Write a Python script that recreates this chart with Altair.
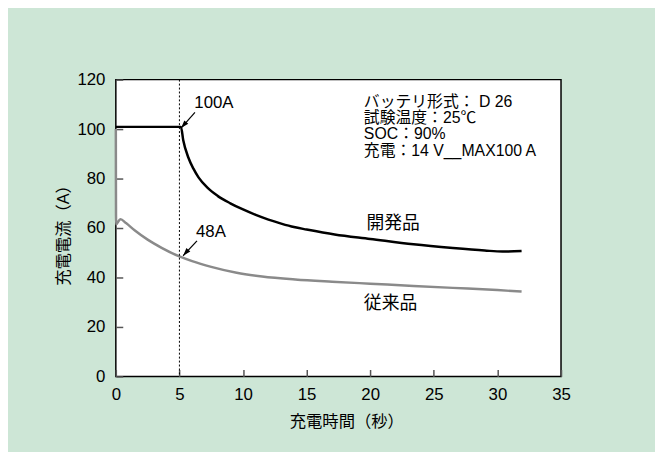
import altair as alt
import pandas as pd

# 開発品 (developed product)
dev_t = [0, 5.12, 5.3, 5.7, 6.1, 6.5, 7.2, 8.0, 9.0, 10.0, 11.0, 12.0, 13.0, 14.0, 15.0, 17.2, 20.0, 23.4, 26.5, 29.0, 30.4, 31.9]
dev_a = [100.9, 100.9, 95.5, 88.5, 84.0, 80.5, 76.3, 73.0, 70.0, 67.5, 65.3, 63.4, 61.8, 60.4, 59.4, 57.4, 55.6, 53.4, 51.9, 50.9, 50.5, 50.7]

# 従来品 (conventional product)
conv_t = [0, 0.02, 0.36, 0.8, 1.5, 2.5, 3.6, 5.0, 6.0, 7.5, 9.5, 11.5, 14.1, 17.0, 20.0, 23.4, 26.5, 30.0, 31.9]
conv_a = [100, 61.5, 63.6, 62.0, 59.0, 55.3, 52.0, 48.5, 46.6, 44.3, 41.9, 40.4, 39.2, 38.3, 37.5, 36.6, 35.8, 34.9, 34.3]

x_ticks = [0, 5, 10, 15, 20, 25, 30, 35]
y_ticks = [0, 20, 40, 60, 80, 100, 120]

marker_t = [5.0]

info_lines = ["バッテリ形式： D 26", "試験温度：25℃", "SOC：90%", "充電：14 V__MAX100 A"]
info_t = [19.5, 19.5, 19.5, 19.5]
info_a = [111.0, 104.4, 97.8, 91.2]

series_labels = ["開発品", "従来品"]
series_label_t = [21.8, 21.6]
series_label_a = [61.6, 29.2]

callout_text = ["100A", "48A"]
callout_text_t = [6.17, 6.3]
callout_text_a = [110.7, 58.4]
arrow_tail_t = [6.22, 6.38]
arrow_tail_a = [106.8, 54.8]
arrow_tip_t = [5.13, 5.29]
arrow_tip_a = [100.4, 48.8]
arrow_angle = [221, 221]

LATIN = "Liberation Sans, Arial, Noto Sans CJK JP"
CJK = "Liberation Sans, Noto Sans CJK JP"

xs = alt.Scale(domain=[0, 35], nice=False, zero=False)
ys = alt.Scale(domain=[0, 120], nice=False, zero=False)

dev_df = pd.DataFrame({"t": dev_t, "a": dev_a})
conv_df = pd.DataFrame({"t": conv_t, "a": conv_a})
marker_df = pd.DataFrame({"t": marker_t})
info_df = pd.DataFrame({"t": info_t, "a": info_a, "txt": info_lines})
lab_df = pd.DataFrame({"t": series_label_t, "a": series_label_a, "txt": series_labels})
call_df = pd.DataFrame({"t": callout_text_t, "a": callout_text_a, "txt": callout_text})
arrow_df = pd.DataFrame({"t": arrow_tail_t, "a": arrow_tail_a, "t2": arrow_tip_t, "a2": arrow_tip_a, "ang": arrow_angle})

main_x_axis = alt.Axis(
    title="充電時間（秒）", values=x_ticks, grid=False, ticks=False, domain=False,
    labelFontSize=17, labelFont=LATIN, labelColor="black", labelPadding=10,
    labelFlush=False, labelOverlap=False,
    titleFont=CJK, titleFontSize=16.5, titleFontWeight="normal", titleColor="black", titlePadding=12,
    titleX=233, titleAlign="center",
)
main_y_axis = alt.Axis(
    title="充電電流（A）", values=y_ticks, grid=False, ticks=False, domain=False,
    labelFontSize=17, labelFont=LATIN, labelColor="black", labelPadding=11,
    labelFlush=False, labelOverlap=False,
    titleFont=CJK, titleFontSize=16.5, titleFontWeight="normal", titleColor="black", titlePadding=5,
    titleY=153, titleAlign="center",
)
inner_x_axis = alt.Axis(
    orient="top", offset=-300, values=x_ticks, labels=False, domain=False, grid=False,
    ticks=True, tickSize=7, tickColor="#555555", tickWidth=1.5, title=None,
)
inner_y_axis = alt.Axis(
    orient="right", offset=-450, values=y_ticks, labels=False, domain=False, grid=False,
    ticks=True, tickSize=7, tickColor="#555555", tickWidth=1.5, title=None,
)

dev_line = alt.Chart(dev_df).mark_line(color="black", strokeWidth=2.5, interpolate="monotone").encode(
    x=alt.X("t:Q", scale=xs, axis=main_x_axis),
    y=alt.Y("a:Q", scale=ys, axis=main_y_axis),
)
conv_line = alt.Chart(conv_df).mark_line(color="#8a8a8a", strokeWidth=2.5, interpolate="monotone").encode(
    x=alt.X("t:Q", scale=xs, axis=None),
    y=alt.Y("a:Q", scale=ys, axis=inner_y_axis),
)
marker = alt.Chart(marker_df).mark_rule(color="black", strokeWidth=1, strokeDash=[2, 2]).encode(
    x=alt.X("t:Q", scale=xs, axis=inner_x_axis),
)
arrows = alt.Chart(arrow_df).mark_rule(color="black", strokeWidth=1.2).encode(
    x=alt.X("t:Q", scale=xs, axis=None),
    y=alt.Y("a:Q", scale=ys, axis=None),
    x2="t2:Q",
    y2="a2:Q",
)
heads = alt.Chart(arrow_df).mark_point(
    shape="M0,0L-0.55,1.7L0.55,1.7Z", filled=True, color="black", opacity=1, size=90
).encode(
    x=alt.X("t2:Q", scale=xs, axis=None),
    y=alt.Y("a2:Q", scale=ys, axis=None),
    angle=alt.Angle("ang:Q", scale=None),
)
info = alt.Chart(info_df).mark_text(align="left", baseline="middle", font=CJK, fontSize=16, color="black").encode(
    x=alt.X("t:Q", scale=xs, axis=None),
    y=alt.Y("a:Q", scale=ys, axis=None),
    text="txt:N",
)
labs = alt.Chart(lab_df).mark_text(align="center", baseline="middle", font=CJK, fontSize=18, color="black").encode(
    x=alt.X("t:Q", scale=xs, axis=None),
    y=alt.Y("a:Q", scale=ys, axis=None),
    text="txt:N",
)
calls = alt.Chart(call_df).mark_text(align="left", baseline="middle", font=LATIN, fontSize=17, color="black").encode(
    x=alt.X("t:Q", scale=xs, axis=None),
    y=alt.Y("a:Q", scale=ys, axis=None),
    text="txt:N",
)

chart = alt.layer(
    conv_line, dev_line, marker, arrows, heads, info, labs, calls
).resolve_axis(
    x="independent", y="independent"
).properties(
    width=450, height=300,
    background="#cde6d6",
    padding={"left": 109, "top": 70, "right": 95, "bottom": 74},
    autosize=alt.AutoSizeParams(type="none"),
).configure_view(
    fill="white", stroke="black", strokeWidth=1.5,
)

chart.save("out.html", embed_options={"renderer": "svg", "actions": False})
